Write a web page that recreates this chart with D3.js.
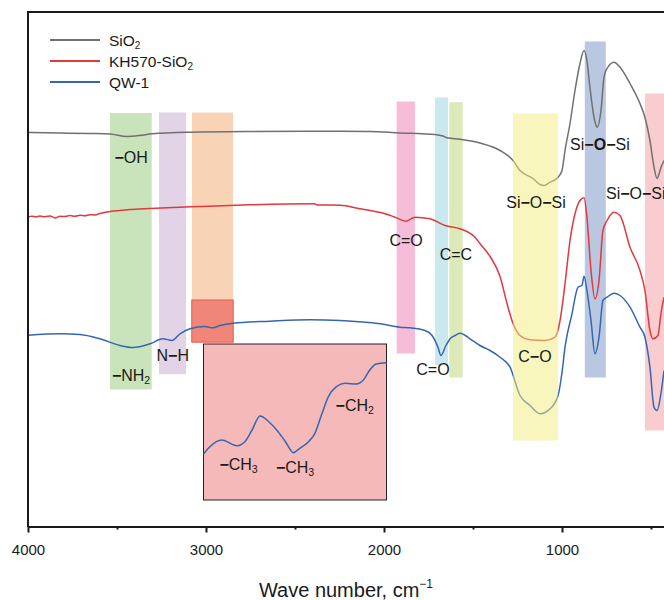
<!DOCTYPE html>
<html>
<head>
<meta charset="utf-8">
<script src="https://cdn.jsdelivr.net/npm/d3@7"></script>
<style>
  body { margin: 0; background: #fff; }
  text { font-family: "Liberation Sans", Arial, sans-serif; fill: #1a1a1a; }
</style>
</head>
<body>
<svg id="chart" width="664" height="600"></svg>
<script>

  // spectra: [wave number, transmittance (a.u.)]
  var sio2 = [[4000,394],[3820,393.5],[3652,393],[3539,392.5],[3444,390],[3371,391],[3303,392.7],[3090,394.3],[2753,395],[2247,395.3],[2079,395],[1910,393.5],[1742,392.3],[1669,390.5],[1646,388.7],[1573,387.3],[1461,383.5],[1348,376],[1275,366],[1236,356],[1163,348],[1124,342],[1101,341],[1067,344.3],[1022,349.3],[1000,356],[983,376],[955,403],[927,436],[899,463],[876,476],[860,466],[843,439],[820,409],[803,399.3],[781,416],[764,449.3],[747,458],[708,464.3],[674,459.3],[618,443],[562,423],[534,409],[506,386],[483,359.3],[466,348],[444,359],[427,366]];

  var kh570 = [[4000,309.5],[3978,310.3],[3955,309.6],[3933,310.4],[3904,309.8],[3876,310.6],[3848,308.6],[3820,310.2],[3792,310],[3764,311],[3736,310.2],[3708,311.2],[3680,310.8],[3652,311.8],[3624,311.6],[3596,313],[3539,315],[3427,317],[3315,318],[3034,320],[2753,321.7],[2390,322.7],[2375,321.5],[2247,321.3],[2135,317.7],[1994,312.7],[1938,309.3],[1876,305.3],[1826,309.3],[1742,307.7],[1657,301],[1573,297.7],[1489,289.3],[1461,283],[1404,270],[1348,250],[1309,223],[1275,203],[1236,191],[1180,186.7],[1096,186],[1039,189.3],[1011,206],[983,243],[955,286],[927,312.7],[899,326],[876,328.7],[860,309.3],[837,256],[815,227.7],[792,246],[770,296],[747,306],[708,314.3],[674,311],[618,279.3],[562,256],[534,236],[506,196],[489,187.7],[461,191],[444,213],[427,229.3]];

  var qw1 = [[4000,191.3],[3820,192.7],[3708,192],[3596,187.7],[3483,181],[3410,179],[3315,182.7],[3242,187.7],[3191,186],[3146,192.7],[3090,197.7],[3006,200],[2961,198.7],[2921,201],[2848,203.3],[2640,205.3],[2416,206.7],[2247,206],[2022,202.7],[1910,199.3],[1854,198.7],[1770,196],[1730,191],[1697,179.3],[1680,171],[1652,181],[1629,187.7],[1601,191],[1573,193.3],[1517,187.7],[1461,181],[1404,176],[1348,169.3],[1292,159.3],[1236,131],[1180,121],[1124,112.7],[1067,117.7],[1022,131],[1000,154],[983,179.3],[944,212.7],[910,239.3],[888,241],[876,250.3],[860,236],[837,206],[815,172.7],[792,189.3],[770,226],[747,229.3],[708,233.3],[674,231],[618,219.3],[562,199.3],[534,189.3],[506,159.3],[483,119.3],[466,116],[444,133],[427,156]];

  // zoomed C-H region of QW-1
  var qw1Zoom = [[3080,46],[3072,53.3],[3057,60],[3038,54.3],[3028,58.3],[3019,70],[3009,84],[2998,78.3],[2988,70],[2977,58.3],[2967,47.3],[2959,51.7],[2948,58.3],[2940,66.7],[2931,86.7],[2923,103.3],[2913,113.3],[2902,116.7],[2888,116],[2879,120],[2871,130],[2863,136],[2850,137.3]];

  var seriesNames = ["SiO\u2082", "KH570-SiO\u2082", "QW-1"];
  var seriesColors = ["#707070", "#e0393e", "#3566b2"];

  // absorption bands: [from, to, top, bottom] in wave number / a.u.
  var bands = [[3539,3305,413.5,137],[3264,3112,414,152.3],[3079,2848,414,226],[1929,1826,425,173],[1713,1640,429,161],[1633,1558,424.3,149],[872,754,485,149],[534,380,433,96]];
  var bandColors = ["#c9e4ba", "#e3d3e6", "#f9d3b5", "#f6bdd9", "#c9e9ef", "#dee9ba", "#b9c7e1", "#f9cdd0"];
  var yellowBand = [1275, 1022, 413, 86];
  var zoomBox = [3080, 2847, 226.5, 184.3];

  var xTicks = [4000, 3000, 2000, 1000];
  var xMinorTicks = [3500, 2500, 1500, 500];

  // labels: [text, wave number, a.u., anchor]
  var labels = [
    ["\u2212OH", 3421, 364, "middle"],
    ["\u2212NH|2", 3421, 146, "middle"],
    ["N\u2212H", 3187, 165.3, "middle"],
    ["C=O", 1876, 281, "middle"],
    ["C=C", 1596, 267, "middle"],
    ["C=O", 1725, 152, "middle"],
    ["Si\u2212O\u2212Si", 1146, 318.3, "middle"],
    ["C\u2212O", 1152, 164.3, "middle"],
    ["Si\u2212O\u2212Si", 787, 377, "middle"],
    ["Si\u2212O\u2212Si", 753, 327.3, "start"]
  ];
  var zoomLabels = [
    ["\u2212CH|3", 3060, 30],
    ["\u2212CH|3", 2989, 27.3],
    ["\u2212CH|2", 2914, 89]
  ];

  var svg = d3.select("#chart");

  var x = d3.scaleLinear().domain([4000, 400]).range([28, 668.8]);
  var y = d3.scaleLinear().domain([0, 514]).range([526.5, 12.5]);

  var xi = d3.scaleLinear().domain([3080, 2850]).range([203.5, 386.5]);
  var yi = d3.scaleLinear().domain([0, 156]).range([500, 344]);

  svg.append("clipPath").attr("id", "plot")
    .append("rect").attr("x", 28).attr("y", 12).attr("width", 640).attr("height", 515);

  var plot = svg.append("g").attr("clip-path", "url(#plot)");

  // bands under the curves
  plot.selectAll("rect.band")
    .data(bands)
    .enter()
    .append("rect")
    .attr("class", "band")
    .attr("x", function (d) { return x(d[0]); })
    .attr("width", function (d) { return x(d[1]) - x(d[0]); })
    .attr("y", function (d) { return y(d[2]); })
    .attr("height", function (d) { return y(d[3]) - y(d[2]); })
    .attr("fill", function (d, i) { return bandColors[i]; });

  plot.append("rect")
    .attr("x", x(zoomBox[0]))
    .attr("width", x(zoomBox[1]) - x(zoomBox[0]))
    .attr("y", y(zoomBox[2]))
    .attr("height", y(zoomBox[3]) - y(zoomBox[2]))
    .attr("fill", "#f08579")
    .attr("stroke", "#ea5a4f")
    .attr("stroke-width", 1);

  var line = d3.line()
    .x(function (d) { return x(d[0]); })
    .y(function (d) { return y(d[1]); })
    .curve(d3.curveMonotoneX);

  [sio2, kh570, qw1].forEach(function (s, i) {
    plot.append("path")
      .attr("d", line(s))
      .attr("fill", "none")
      .attr("stroke", seriesColors[i])
      .attr("stroke-width", 1.5);
  });

  // yellow band sits on top of the curves, semi transparent
  plot.append("rect")
    .attr("x", x(yellowBand[0]))
    .attr("width", x(yellowBand[1]) - x(yellowBand[0]))
    .attr("y", y(yellowBand[2]))
    .attr("height", y(yellowBand[3]) - y(yellowBand[2]))
    .attr("fill", "#f1eb7b")
    .attr("fill-opacity", 0.5);

  // inset
  svg.append("rect")
    .attr("x", xi.range()[0])
    .attr("y", yi.range()[1])
    .attr("width", xi.range()[1] - xi.range()[0])
    .attr("height", yi.range()[0] - yi.range()[1])
    .attr("fill", "#f5b9b9")
    .attr("stroke", "#222")
    .attr("stroke-width", 1);

  var lineInset = d3.line()
    .x(function (d) { return xi(d[0]); })
    .y(function (d) { return yi(d[1]); })
    .curve(d3.curveMonotoneX);

  svg.append("path")
    .attr("d", lineInset(qw1Zoom))
    .attr("fill", "none")
    .attr("stroke", seriesColors[2])
    .attr("stroke-width", 1.5);

  // text with bold dashes and an optional subscript after "|"
  function label(g, str, size) {
    var parts = str.split("|");
    var t = g.append("text").attr("font-size", size);
    parts[0].split(/(\u2212)/).forEach(function (p) {
      if (p === "") return;
      var ts = t.append("tspan").text(p);
      if (p === "\u2212") ts.attr("font-weight", "bold");
    });
    if (parts[1]) {
      t.append("tspan").attr("font-size", size * 0.66).attr("dy", 3).text(parts[1]);
    }
    return t;
  }

  labels.forEach(function (l) {
    var t = label(svg, l[0], 16)
      .attr("x", x(l[1]))
      .attr("y", y(l[2]))
      .attr("text-anchor", l[3]);
    if (l[1] === 787) {
      t.selectAll("tspan").filter(function () { return this.textContent === "O"; })
        .attr("font-weight", "bold");
    }
  });

  zoomLabels.forEach(function (l) {
    label(svg, l[0], 16)
      .attr("x", xi(l[1]))
      .attr("y", yi(l[2]));
  });

  // frame
  svg.append("line").attr("x1", 28).attr("x2", 664).attr("y1", 12).attr("y2", 12)
    .attr("stroke", "#1a1a1a").attr("stroke-width", 2);
  svg.append("line").attr("x1", 28).attr("x2", 28).attr("y1", 11).attr("y2", 527)
    .attr("stroke", "#1a1a1a").attr("stroke-width", 2);

  var xAxis = svg.append("g")
    .attr("transform", "translate(0,526.5)")
    .call(d3.axisBottom(x).tickValues(xTicks).tickSize(6).tickSizeOuter(0)
      .tickPadding(12).tickFormat(d3.format("d")));
  xAxis.select(".domain").attr("stroke-width", 2.2).attr("stroke", "#1a1a1a");
  xAxis.selectAll(".tick line").attr("stroke-width", 2).attr("stroke", "#1a1a1a");
  xAxis.selectAll(".tick text").attr("font-size", 15)
    .attr("font-family", "'Liberation Sans', Arial, sans-serif").attr("fill", "#1a1a1a");

  svg.append("g")
    .attr("transform", "translate(0,526.5)")
    .call(d3.axisBottom(x).tickValues(xMinorTicks).tickSize(3).tickFormat(""))
    .call(function (g) { g.select(".domain").remove(); })
    .selectAll(".tick line").attr("stroke-width", 2).attr("stroke", "#1a1a1a");

  var title = svg.append("text")
    .attr("x", 346)
    .attr("y", 597)
    .attr("text-anchor", "middle")
    .attr("font-size", 20)
    .text("Wave number, cm");
  title.append("tspan").attr("font-size", 12).attr("dy", -9).text("\u22121");

  // legend
  var legend = svg.append("g");
  seriesNames.forEach(function (name, i) {
    var yy = 40 + i * 21;
    legend.append("line")
      .attr("x1", 50).attr("x2", 100).attr("y1", yy).attr("y2", yy)
      .attr("stroke", seriesColors[i]).attr("stroke-width", 2);
    var t = legend.append("text").attr("x", 109).attr("y", yy + 5.5).attr("font-size", 15.5);
    if (name.indexOf("\u2082") >= 0) {
      t.append("tspan").text(name.replace("\u2082", ""));
      t.append("tspan").attr("font-size", 10).attr("dy", 3).text("2");
    } else {
      t.text(name);
    }
  });

</script>
</body>
</html>
